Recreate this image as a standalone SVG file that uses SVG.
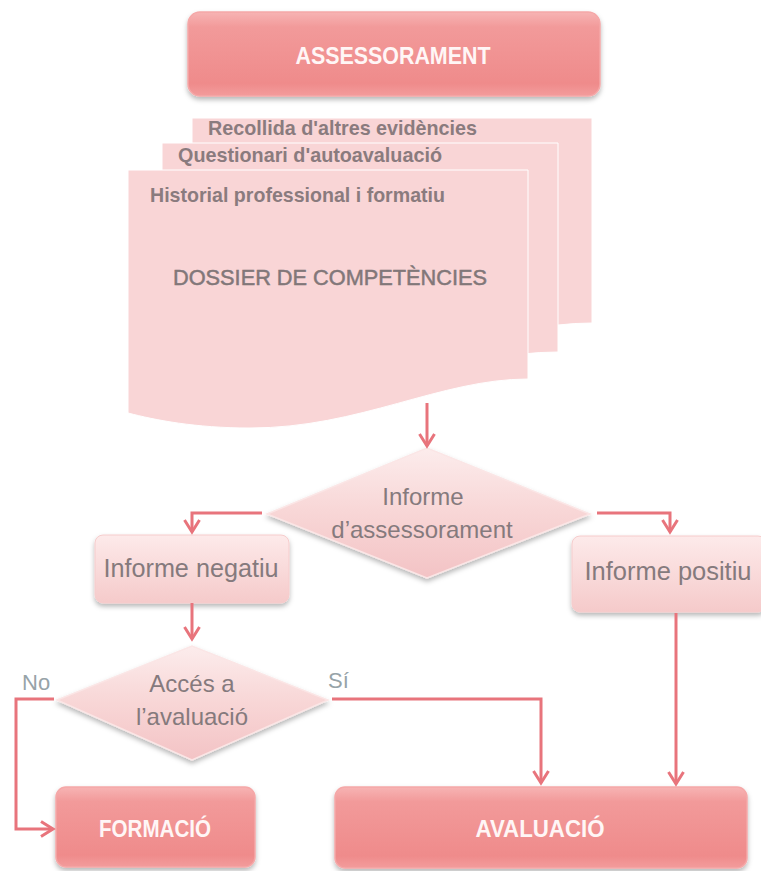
<svg xmlns="http://www.w3.org/2000/svg" width="761" height="871" viewBox="0 0 761 871">
<defs>
<style>
.t{font-family:"Liberation Sans",Arial,sans-serif}
.doc{font-weight:bold;font-size:21px;fill:#8a7b7e}
.big{font-size:22px;fill:#827779;stroke:#827779;stroke-width:0.5}
.dk{font-weight:bold;font-size:24px;fill:#fff6f6}
.lt{font-size:25px;fill:#857a7d}
.dm{font-size:24px;fill:#857a7d}
.lbl{font-size:22px;fill:#97a3a8}
.conn{fill:none;stroke:#e8747c;stroke-width:3}
.docs{fill:#f9d5d6;stroke:#ffffff;stroke-width:1}
</style>
<linearGradient id="gDark" x1="0" y1="0" x2="0" y2="1">
<stop offset="0" stop-color="#f7b4b4"/>
<stop offset="0.18" stop-color="#f29a9a"/>
<stop offset="0.85" stop-color="#ef8b8b"/>
<stop offset="1" stop-color="#f39c9c"/>
</linearGradient>
<linearGradient id="gLight" x1="0" y1="0" x2="0" y2="1">
<stop offset="0" stop-color="#fdeaea"/>
<stop offset="0.5" stop-color="#f9dada"/>
<stop offset="1" stop-color="#f5caca"/>
</linearGradient>
<linearGradient id="gDia" x1="0" y1="0" x2="0" y2="1">
<stop offset="0" stop-color="#fcecec"/>
<stop offset="0.5" stop-color="#f8d6d6"/>
<stop offset="1" stop-color="#f3c3c5"/>
</linearGradient>
<filter id="sh" x="-10%" y="-10%" width="120%" height="140%">
<feGaussianBlur in="SourceAlpha" stdDeviation="2.5"/>
<feOffset dy="3" result="b"/>
<feFlood flood-color="#000000" flood-opacity="0.28"/>
<feComposite in2="b" operator="in"/>
<feMerge><feMergeNode/><feMergeNode in="SourceGraphic"/></feMerge>
</filter>
<marker id="arr" markerUnits="userSpaceOnUse" markerWidth="22" markerHeight="24" refX="14" refY="9" orient="auto">
<path d="M2,1.5 L14,9 L2,16.5" fill="none" stroke="#e8747c" stroke-width="3"/>
</marker>
</defs>
<rect width="761" height="871" fill="#ffffff"/>

<g id="assessorament">
<rect x="188" y="12" width="412" height="84" rx="12" fill="url(#gDark)" stroke="#f5a8a8" stroke-width="1.5" filter="url(#sh)"/>
<text class="t dk" x="393" y="64" text-anchor="middle" textLength="195" lengthAdjust="spacingAndGlyphs">ASSESSORAMENT</text>
</g>

<g id="dossier">
<path class="docs" d="M192,118 H592 V323 C 500,323 420,370 310,370 C 250,370 215,364 192,360 Z"/>
<path class="docs" d="M162,143 H558 V352 C 460,352 380,400 270,400 C 215,400 185,392 162,388 Z"/>
<path class="docs" d="M128,170 H528 V379 C 440,379 360,428 250,428 C 195,428 155,420 128,413 Z"/>
<text class="t doc" x="208" y="135" textLength="269" lengthAdjust="spacingAndGlyphs">Recollida d'altres evidències</text>
<text class="t doc" x="178" y="162" textLength="264" lengthAdjust="spacingAndGlyphs">Questionari d'autoavaluació</text>
<text class="t doc" x="150" y="202" textLength="295" lengthAdjust="spacingAndGlyphs">Historial professional i formatiu</text>
<text class="t big" x="330" y="285" text-anchor="middle" textLength="314" lengthAdjust="spacingAndGlyphs">DOSSIER DE COMPETÈNCIES</text>
</g>

<g id="informe-assessorament">
<polygon points="267,514 427,448 590,514 427,578" fill="url(#gDia)" stroke="#fbe6e6" stroke-width="1.5" filter="url(#sh)"/>
<text class="t dm" x="423" y="505" text-anchor="middle">Informe</text>
<text class="t dm" x="422" y="538" text-anchor="middle">d’assessorament</text>
</g>

<g id="informe-negatiu">
<rect x="95" y="535" width="194" height="68" rx="8" fill="url(#gLight)" stroke="#f6cccc" stroke-width="1" filter="url(#sh)"/>
<text class="t lt" x="191" y="577" text-anchor="middle" textLength="175" lengthAdjust="spacingAndGlyphs">Informe negatiu</text>
</g>

<g id="informe-positiu">
<rect x="572" y="536" width="194" height="76" rx="8" fill="url(#gLight)" stroke="#f6cccc" stroke-width="1" filter="url(#sh)"/>
<text class="t lt" x="668" y="580" text-anchor="middle" textLength="167" lengthAdjust="spacingAndGlyphs">Informe positiu</text>
</g>

<g id="acces-avaluacio">
<polygon points="57,700 192,646 328,700 192,760" fill="url(#gDia)" stroke="#fbe6e6" stroke-width="1.5" filter="url(#sh)"/>
<text class="t dm" x="192" y="692" text-anchor="middle">Accés a</text>
<text class="t dm" x="192" y="725" text-anchor="middle">l’avaluació</text>
</g>

<g id="formacio">
<rect x="56" y="787" width="199" height="80" rx="10" fill="url(#gDark)" stroke="#f5a8a8" stroke-width="1.5" filter="url(#sh)"/>
<text class="t dk" x="155" y="837" text-anchor="middle" textLength="112" lengthAdjust="spacingAndGlyphs">FORMACIÓ</text>
</g>

<g id="avaluacio">
<rect x="335" y="787" width="412" height="81" rx="10" fill="url(#gDark)" stroke="#f5a8a8" stroke-width="1.5" filter="url(#sh)"/>
<text class="t dk" x="540" y="837" text-anchor="middle" textLength="129" lengthAdjust="spacingAndGlyphs">AVALUACIÓ</text>
</g>

<g id="connectors">
<path class="conn" d="M427,403 V446" marker-end="url(#arr)"/>
<path class="conn" d="M262,513 H192 V532" marker-end="url(#arr)"/>
<path class="conn" d="M597,513 H670 V532" marker-end="url(#arr)"/>
<path class="conn" d="M192,603 V639" marker-end="url(#arr)"/>
<path class="conn" d="M54,699 H16 V829 H53" marker-end="url(#arr)"/>
<path class="conn" d="M332,699 H541 V783" marker-end="url(#arr)"/>
<path class="conn" d="M676,613 V784" marker-end="url(#arr)"/>
<text class="t lbl" x="22" y="690">No</text>
<text class="t lbl" x="328" y="688">Sí</text>
</g>
</svg>
